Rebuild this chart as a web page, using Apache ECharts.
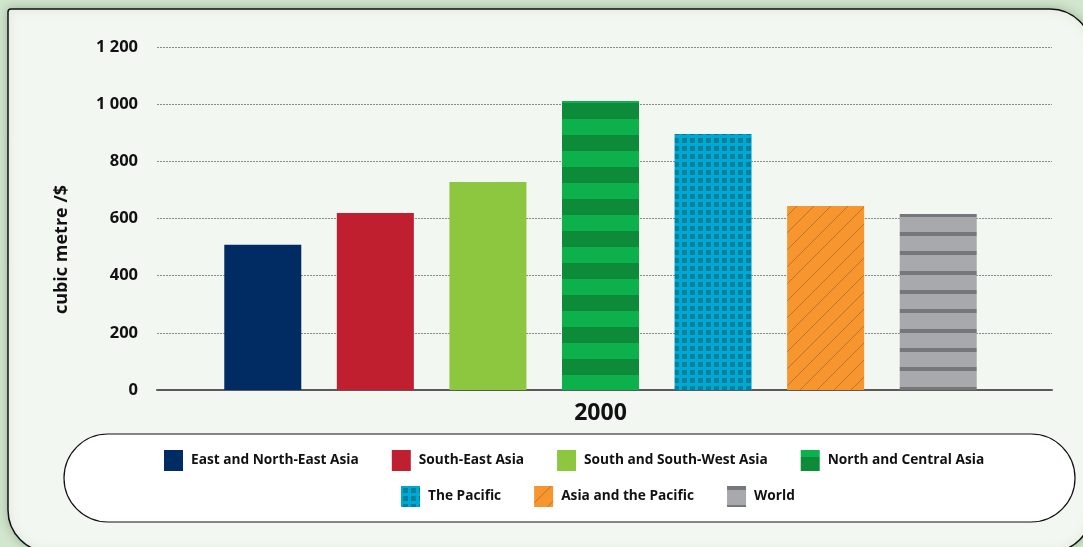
<!DOCTYPE html>
<html>
<head>
<meta charset="utf-8">
<script src="https://cdn.jsdelivr.net/npm/echarts@6/dist/echarts.min.js"></script>
<style>
  html, body { margin: 0; padding: 0; background: #d2e5ce; }
  #chart { width: 1083px; height: 547px; }
</style>
</head>
<body>
<div id="chart"></div>
<script>
// Water intensity of GDP, by region, year 2000
const categories = ['2000'];
const regions = [
  'East and North-East Asia',
  'South-East Asia',
  'South and South-West Asia',
  'North and Central Asia',
  'The Pacific',
  'Asia and the Pacific',
  'World'
];
const values = [508, 619, 728, 1011, 896, 644, 616];
const yTicks = [0, 200, 400, 600, 800, 1000, 1200];

const FONT = '"Open Sans", "Noto Sans", sans-serif';

// ---- fill patterns -------------------------------------------------------
function makeCanvas(w, h, draw) {
  const c = document.createElement('canvas');
  c.width = w; c.height = h;
  draw(c.getContext('2d'), w, h);
  return c;
}
const stripesGreen = makeCanvas(8, 32, (g, w, h) => {
  g.fillStyle = '#0db14b'; g.fillRect(0, 0, w, h);
  g.fillStyle = '#0e8a3b'; g.fillRect(0, 7, w, 16);
});
const gridBlue = makeCanvas(8, 8, (g, w, h) => {
  g.fillStyle = '#00a8d4'; g.fillRect(0, 0, w, h);
  g.fillStyle = '#00819c'; g.fillRect(2, 2, 5, 5);
});
const hatchOrange = makeCanvas(17, 17, (g, w, h) => {
  g.fillStyle = '#f7962f'; g.fillRect(0, 0, w, h);
  g.strokeStyle = '#bd742b'; g.lineWidth = 1;
  g.beginPath();
  for (let k = -1; k <= 1; k++) {
    g.moveTo(k * w, h); g.lineTo(k * w + w, 0);
  }
  g.stroke();
});
const stripesGrey = makeCanvas(8, 58, (g, w, h) => {
  g.fillStyle = '#a7a9ac'; g.fillRect(0, 0, w, h);
  g.fillStyle = '#76777a';
  g.fillRect(0, 0, w, 4); g.fillRect(0, 19, w, 4); g.fillRect(0, 39, w, 4);
});

const fills = [
  '#002c63',
  '#c01f2f',
  '#8dc63f',
  { image: stripesGreen, repeat: 'repeat' },
  { image: gridBlue, repeat: 'repeat' },
  { image: hatchOrange, repeat: 'repeat' },
  { image: stripesGrey, repeat: 'repeat' }
];

// bars live on the second grid (slightly wider on the left so the group sits
// a little left of the gridline span)
const series = regions.map((name, i) => ({
  name: name,
  type: 'bar',
  xAxisIndex: 1,
  yAxisIndex: 1,
  barWidth: 77,
  barGap: '46.2%',
  itemStyle: { color: fills[i] },
  data: [values[i]]
}));

const legendText = { fontFamily: FONT, fontWeight: 'bold', fontSize: 13.7, color: '#111', padding: [0, 0, 0, 3] };
const yMin = yTicks[0], yMax = yTicks[yTicks.length - 1], yStep = yTicks[1] - yTicks[0];

const chart = echarts.init(document.getElementById('chart'), null, { renderer: 'canvas' });
chart.setOption({
  backgroundColor: '#d2e5ce',
  animation: false,
  graphic: [
    {
      type: 'rect', z: -10, silent: true,
      shape: { x: 8, y: 9, width: 1084, height: 543, r: [3, 42, 42, 42] },
      style: { fill: '#f3f7f1', stroke: '#111', lineWidth: 1.5,
               shadowBlur: 10, shadowColor: 'rgba(60,110,60,0.35)' }
    },
    {
      type: 'rect', z: -5, silent: true,
      shape: { x: 64, y: 434, width: 1011, height: 88, r: 44 },
      style: { fill: '#ffffff', stroke: '#111', lineWidth: 1.2 }
    }
  ],
  legend: [
    {
      data: regions.slice(0, 4), top: 450, left: 164, padding: 0,
      icon: 'rect', itemWidth: 19, itemHeight: 21, itemGap: 33,
      textStyle: legendText, selectedMode: false
    },
    {
      data: regions.slice(4), top: 486, left: 401, padding: 0,
      icon: 'rect', itemWidth: 19, itemHeight: 21, itemGap: 33,
      textStyle: legendText, selectedMode: false
    }
  ],
  grid: [
    { left: 157, right: 31, top: 47, bottom: 157 },
    { left: 149, right: 31, top: 47, bottom: 157 }
  ],
  xAxis: [
    {
      gridIndex: 0,
      type: 'category',
      data: categories,
      axisLine: { lineStyle: { color: '#5a5a5a', width: 2 } },
      axisTick: { show: false },
      axisLabel: { show: false }
    },
    {
      gridIndex: 1,
      type: 'category',
      data: categories,
      axisLine: { show: false },
      axisTick: { show: false },
      axisLabel: { fontFamily: FONT, fontWeight: 'bold', fontSize: 23, color: '#111', margin: 12 }
    }
  ],
  yAxis: [
    {
      gridIndex: 0,
      type: 'value',
      min: yMin, max: yMax, interval: yStep,
      name: 'cubic metre /$',
      nameLocation: 'middle',
      nameRotate: 90,
      nameGap: 86,
      nameTextStyle: { fontFamily: FONT, fontWeight: 'bold', fontSize: 18, color: '#111', padding: [0, 62, 0, 0] },
      axisLine: { show: false },
      axisTick: { show: false },
      axisLabel: {
        fontFamily: FONT, fontWeight: 'bold', fontSize: 16.5, color: '#111', margin: 19,
        formatter: v => String(v).replace(/\B(?=(\d{3})+(?!\d))/g, ' ')
      },
      splitLine: { lineStyle: { color: '#8a8a8a', type: [2, 1], width: 1 } }
    },
    {
      gridIndex: 1,
      type: 'value',
      min: yMin, max: yMax, interval: yStep,
      show: false,
      splitLine: { show: false }
    }
  ],
  series: series
});
</script>
</body>
</html>
